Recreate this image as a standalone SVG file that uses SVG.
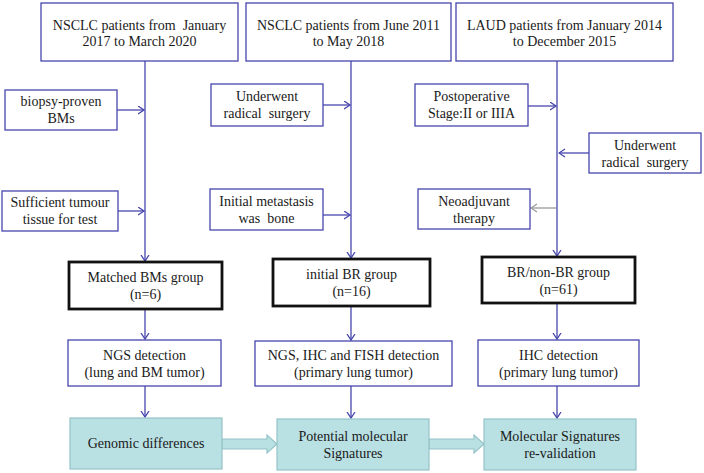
<svg xmlns="http://www.w3.org/2000/svg" width="704" height="473" viewBox="0 0 704 473" xml:space="preserve">
<defs>
<marker id="ah" markerUnits="userSpaceOnUse" markerWidth="8" markerHeight="10" refX="6.5" refY="4.5" orient="auto">
<path d="M0.5,0.5 L6.5,4.5 L0.5,8.5" fill="none" stroke="#4646ad" stroke-width="1.3"/>
</marker>
<marker id="ahg" markerUnits="userSpaceOnUse" markerWidth="8" markerHeight="10" refX="6.5" refY="4.5" orient="auto">
<path d="M0.5,0.5 L6.5,4.5 L0.5,8.5" fill="none" stroke="#9a9a9a" stroke-width="1.3"/>
</marker>
<style>
.b{fill:#fff;stroke:#4646ad;stroke-width:1.3}
.k{fill:#fff;stroke:#111;stroke-width:2.8}
.t{fill:#b9e0e3;stroke:#94c4c8;stroke-width:1.2}
text{font-size:14px;fill:#1a1a1a;text-anchor:middle;white-space:pre}
.c{fill:none;stroke:#4646ad;stroke-width:1.3}
.g{fill:none;stroke:#9a9a9a;stroke-width:1.3}
.ba{fill:#b9e0e3;stroke:#94c4c8;stroke-width:1.2}
</style>
</defs>
<g id="connectors">
<line class="c" x1="145" y1="61" x2="145" y2="261" marker-end="url(#ah)"/>
<line class="c" x1="117" y1="110" x2="144" y2="110" marker-end="url(#ah)"/>
<line class="c" x1="118" y1="211" x2="144" y2="211" marker-end="url(#ah)"/>
<line class="c" x1="145" y1="310" x2="145" y2="339" marker-end="url(#ah)"/>
<line class="c" x1="145" y1="386" x2="145" y2="417" marker-end="url(#ah)"/>
<line class="c" x1="351" y1="61" x2="351" y2="258" marker-end="url(#ah)"/>
<line class="c" x1="323" y1="105" x2="350" y2="105" marker-end="url(#ah)"/>
<line class="c" x1="323" y1="215" x2="350" y2="215" marker-end="url(#ah)"/>
<line class="c" x1="351" y1="307" x2="351" y2="340" marker-end="url(#ah)"/>
<line class="c" x1="351" y1="386" x2="351" y2="418" marker-end="url(#ah)"/>
<line class="c" x1="557" y1="61" x2="557" y2="256" marker-end="url(#ah)"/>
<line class="c" x1="528" y1="106" x2="556" y2="106" marker-end="url(#ah)"/>
<line class="c" x1="589" y1="153" x2="559" y2="153" marker-end="url(#ah)"/>
<line class="g" x1="556" y1="208" x2="531" y2="208" marker-end="url(#ahg)"/>
<line class="c" x1="557" y1="304" x2="557" y2="339" marker-end="url(#ah)"/>
<line class="c" x1="557" y1="386" x2="557" y2="418" marker-end="url(#ah)"/>
<path class="ba" d="M222,439 L267,439 L267,435 L277,444 L267,453 L267,449 L222,449 Z"/>
<path class="ba" d="M429,439 L474,439 L474,435 L484,444 L474,453 L474,449 L429,449 Z"/>
</g>
<g font-family="'Liberation Serif', Tinos, 'DejaVu Serif', serif">
<g id="top1"><rect class="b" x="41" y="3" width="197" height="58"/><text x="139.5" y="29.5">NSCLC patients from  January</text><text x="139.5" y="46">2017 to March 2020</text></g>
<g id="biopsy"><rect class="b" x="5" y="90" width="112" height="40"/><text x="61" y="106">biopsy-proven</text><text x="61" y="123">BMs</text></g>
<g id="sufficient"><rect class="b" x="2" y="191" width="116" height="40"/><text x="60" y="207">Sufficient tumour</text><text x="60" y="224">tissue for test</text></g>
<g id="matched"><rect class="k" x="69" y="262" width="153" height="47"/><text x="145.5" y="282">Matched BMs group</text><text x="145.5" y="299">(n=6)</text></g>
<g id="ngs1"><rect class="b" x="68" y="340" width="153" height="46"/><text x="144.5" y="360">NGS detection</text><text x="144.5" y="377">(lung and BM tumor)</text></g>
<g id="genomic"><rect class="t" x="70" y="418" width="152" height="51"/><text x="146" y="448">Genomic differences</text></g>
<g id="top2"><rect class="b" x="246" y="3" width="205" height="58"/><text x="348.5" y="29.5">NSCLC patients from June 2011</text><text x="348.5" y="46">to May 2018</text></g>
<g id="underwent2"><rect class="b" x="211" y="84" width="112" height="42"/><text x="267" y="101">Underwent</text><text x="267" y="118">radical  surgery</text></g>
<g id="initialmet"><rect class="b" x="210" y="189" width="113" height="41"/><text x="266.5" y="206">Initial metastasis</text><text x="266.5" y="223">was  bone</text></g>
<g id="initialbr"><rect class="k" x="273" y="259" width="157" height="47"/><text x="351.5" y="279">initial BR group</text><text x="351.5" y="296">(n=16)</text></g>
<g id="ngs2"><rect class="b" x="255" y="341" width="197" height="45"/><text x="353.5" y="360">NGS, IHC and FISH detection</text><text x="353.5" y="377">(primary lung tumor)</text></g>
<g id="potential"><rect class="t" x="277" y="419" width="152" height="51"/><text x="353" y="441">Potential molecular</text><text x="353" y="458">Signatures</text></g>
<g id="top3"><rect class="b" x="456" y="3" width="217" height="58"/><text x="564.5" y="29.5">LAUD patients from January 2014</text><text x="564.5" y="46">to December 2015</text></g>
<g id="postop"><rect class="b" x="415" y="84" width="113" height="42"/><text x="471.5" y="101">Postoperative</text><text x="471.5" y="118">Stage:II or IIIA</text></g>
<g id="underwent3"><rect class="b" x="589" y="133" width="112" height="40"/><text x="645" y="150">Underwent</text><text x="645" y="167">radical  surgery</text></g>
<g id="neoadj"><rect class="b" x="418" y="189" width="112" height="40"/><text x="474" y="206">Neoadjuvant</text><text x="474" y="223">therapy</text></g>
<g id="brnonbr"><rect class="k" x="482" y="257" width="153" height="46"/><text x="558.5" y="277">BR/non-BR group</text><text x="558.5" y="294">(n=61)</text></g>
<g id="ihc"><rect class="b" x="478" y="340" width="161" height="46"/><text x="558.5" y="360">IHC detection</text><text x="558.5" y="377">(primary lung tumor)</text></g>
<g id="reval"><rect class="t" x="484" y="419" width="152" height="51"/><text x="560" y="441">Molecular Signatures</text><text x="560" y="458">re-validation</text></g>
</g>
</svg>
